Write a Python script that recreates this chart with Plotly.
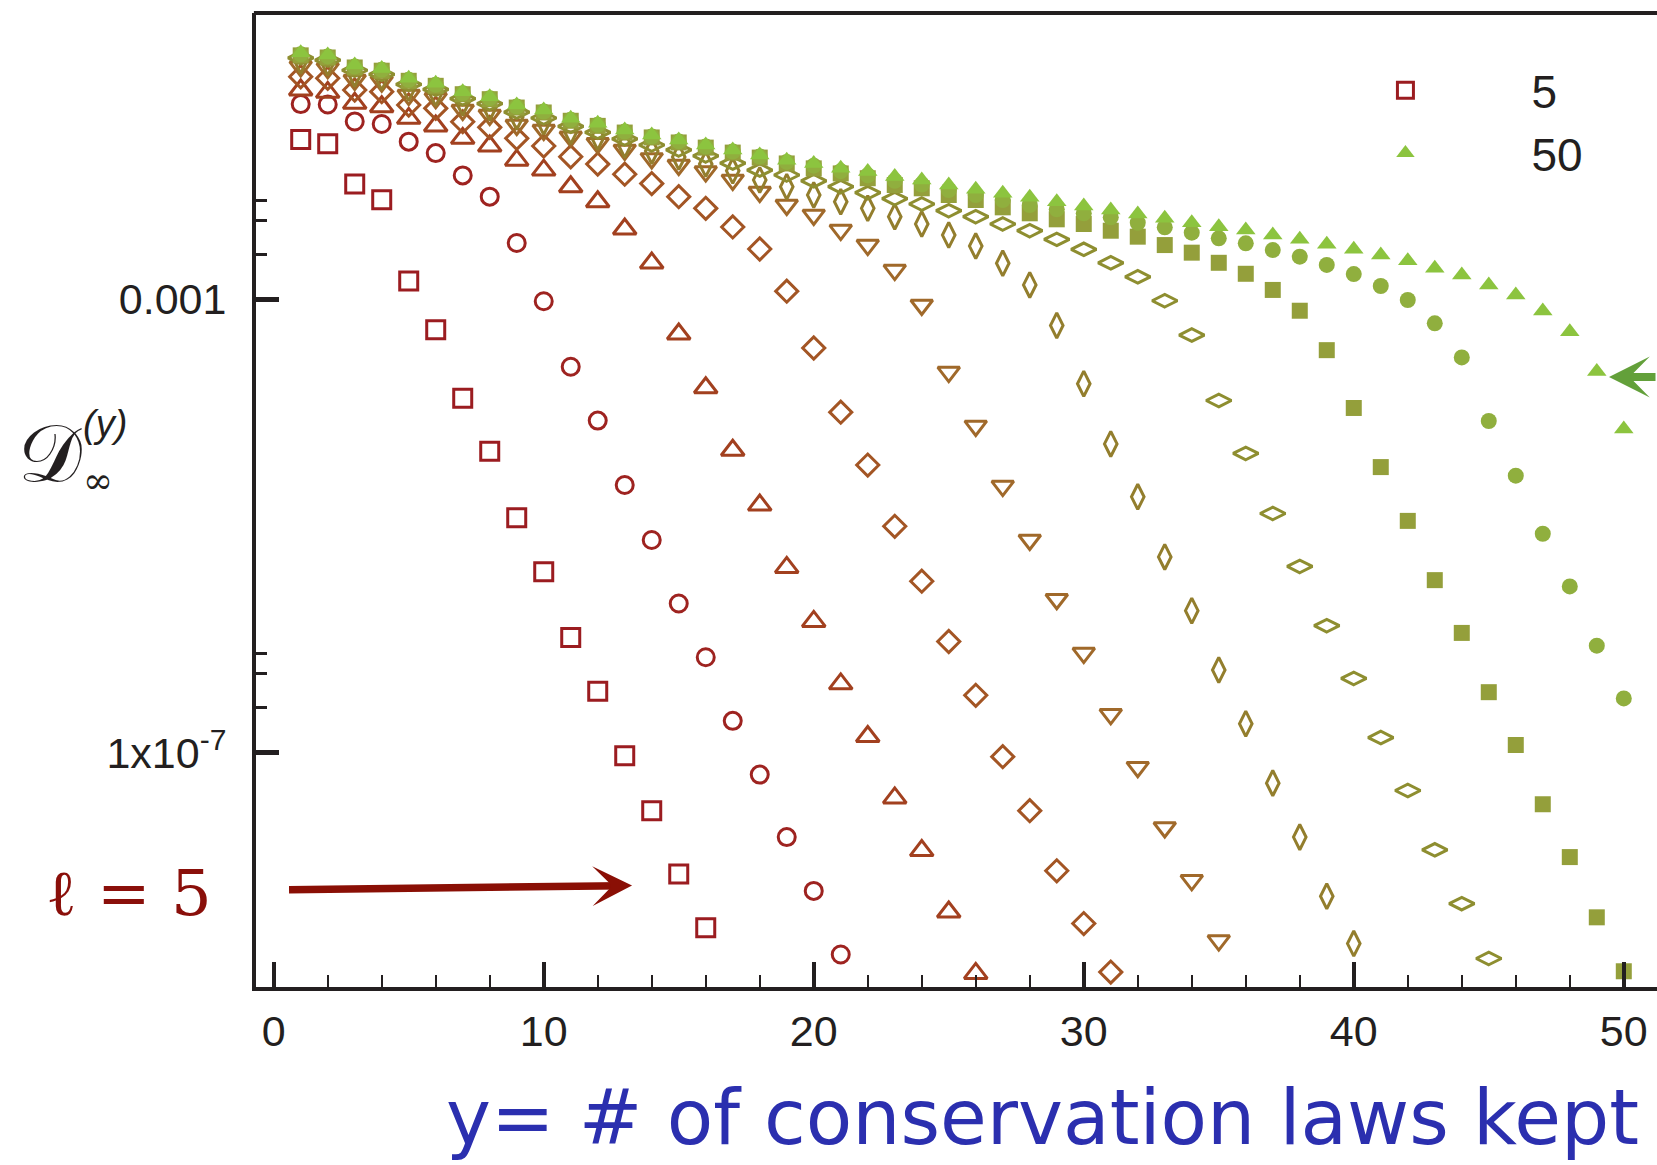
import plotly.graph_objects as go

# D_inf^(y) for l = 5, 10, ..., 50 ; y = 1, 2, ...
ell5 = [2.57e-2, 2.36e-2, 1.04e-2, 7.57e-3, 1.45e-3, 5.39e-4, 1.34e-4, 4.56e-5, 1.18e-5, 3.95e-6,
        1.04e-6, 3.49e-7, 9.42e-8, 3.08e-8, 8.51e-9, 2.85e-9]
ell10 = [5.28e-2, 5.24e-2, 3.71e-2, 3.52e-2, 2.46e-2, 1.95e-2, 1.24e-2, 8.05e-3, 3.14e-3, 9.62e-4,
         2.54e-4, 8.51e-5, 2.30e-5, 7.52e-6, 2.07e-6, 6.95e-7, 1.91e-7, 6.41e-8, 1.80e-8, 6.04e-9,
         1.66e-9]
ell15 = [7.03e-2, 6.70e-2, 5.36e-2, 5.00e-2, 3.95e-2, 3.38e-2, 2.63e-2, 2.25e-2, 1.69e-2, 1.38e-2,
         9.84e-3, 7.26e-3, 4.17e-3, 2.09e-3, 4.94e-4, 1.66e-4, 4.66e-5, 1.53e-5, 4.31e-6, 1.44e-6,
         4.05e-7, 1.39e-7, 3.99e-8, 1.37e-8, 3.93e-9, 1.13e-9]
ell20 = [9.20e-2, 8.91e-2, 7.03e-2, 6.79e-2, 5.18e-2, 4.84e-2, 3.69e-2, 3.29e-2, 2.63e-2, 2.25e-2,
         1.81e-2, 1.56e-2, 1.27e-2, 1.05e-2, 8.05e-3, 6.35e-3, 4.35e-3, 2.78e-3, 1.18e-3, 3.72e-4,
         1.01e-4, 3.45e-5, 9.94e-6, 3.26e-6, 9.57e-7, 3.21e-7, 9.23e-8, 3.08e-8, 9.08e-9, 3.11e-9,
         1.16e-9]
ell25 = [1.13e-1, 1.09e-1, 8.61e-2, 8.32e-2, 6.34e-2, 5.93e-2, 4.68e-2, 4.23e-2, 3.45e-2, 3.12e-2,
         2.72e-2, 2.38e-2, 2.08e-2, 1.75e-2, 1.53e-2, 1.34e-2, 1.13e-2, 8.85e-3, 6.79e-3, 5.55e-3,
         4.08e-3, 3.01e-3, 1.81e-3, 8.91e-4, 2.28e-4, 7.64e-5, 2.25e-5, 7.52e-6, 2.26e-6, 7.57e-7,
         2.18e-7, 7.45e-8, 2.19e-8, 7.48e-9, 2.20e-9]
ell30 = [0.127, 0.122, 0.0972, 0.0909, 0.0727, 0.0657, 0.0543, 0.0490, 0.0406, 0.0367,
         0.0303, 0.0269, 0.0230, 0.0203, 0.0180, 0.0156, 0.0136, 0.0113, 9.85e-3, 8.32e-3,
         7.26e-3, 6.35e-3, 5.36e-3, 4.62e-3, 3.69e-3, 2.95e-3, 2.08e-3, 1.34e-3, 5.87e-4, 1.80e-4,
         5.30e-5, 1.81e-5, 5.34e-6, 1.79e-6, 5.37e-7, 1.80e-7, 5.39e-8, 1.80e-8, 5.42e-9, 2.07e-9]
ell35 = [0.135, 0.129, 0.105, 0.0966, 0.0789, 0.0712, 0.0589, 0.0532, 0.0449, 0.0398,
         0.0336, 0.0297, 0.0260, 0.0230, 0.0208, 0.0184, 0.0159, 0.0138, 0.0125, 0.0111,
         9.85e-3, 8.72e-3, 7.72e-3, 6.93e-3, 6.05e-3, 5.36e-3, 4.62e-3, 4.03e-3, 3.38e-3, 2.76e-3,
         2.10e-3, 1.58e-3, 9.72e-4, 4.84e-4, 1.28e-4, 4.37e-5, 1.29e-5, 4.40e-6, 1.32e-6, 4.52e-7,
         1.36e-7, 4.64e-8, 1.39e-8, 4.66e-9, 1.53e-9]
ell40 = [0.142, 0.136, 0.111, 0.104, 0.0847, 0.0765, 0.0645, 0.0583, 0.0492, 0.0445,
         0.0376, 0.0339, 0.0296, 0.0268, 0.0242, 0.0218, 0.0197, 0.0178, 0.0158, 0.0143,
         0.0129, 0.0117, 0.0102, 9.54e-3, 8.32e-3, 7.52e-3, 6.48e-3, 5.74e-3, 5.08e-3, 4.62e-3,
         4.03e-3, 3.57e-3, 3.01e-3, 2.58e-3, 2.10e-3, 1.68e-3, 1.21e-3, 7.93e-4, 3.56e-4, 1.10e-4,
         3.31e-5, 1.11e-5, 3.33e-6, 1.14e-6, 3.42e-7, 1.17e-7, 3.51e-8, 1.20e-8, 3.53e-9, 1.18e-9]
ell45 = [0.145, 0.139, 0.113, 0.106, 0.0864, 0.0781, 0.0658, 0.0595, 0.0502, 0.0454,
         0.0383, 0.0346, 0.0302, 0.0273, 0.0247, 0.0223, 0.0201, 0.0182, 0.0163, 0.0151,
         0.0135, 0.0124, 0.0111, 0.0103, 9.21e-3, 8.32e-3, 7.52e-3, 6.79e-3, 6.22e-3, 5.74e-3,
         5.29e-3, 4.74e-3, 4.32e-3, 3.87e-3, 3.45e-3, 3.12e-3, 2.72e-3, 2.38e-3, 2.01e-3, 1.67e-3,
         1.31e-3, 9.86e-4, 6.14e-4, 3.07e-4, 8.44e-5, 2.78e-5, 8.55e-6, 2.93e-6, 8.79e-7, 3.01e-7]
ell50 = [0.150, 0.143, 0.117, 0.109, 0.0891, 0.0805, 0.0678, 0.0613, 0.0518, 0.0468,
         0.0395, 0.0357, 0.0312, 0.0282, 0.0254, 0.0230, 0.0208, 0.0188, 0.0169, 0.0158,
         0.0143, 0.0134, 0.0121, 0.0113, 0.0102, 9.34e-3, 8.61e-3, 7.94e-3, 7.26e-3, 6.65e-3,
         6.14e-3, 5.66e-3, 5.18e-3, 4.74e-3, 4.37e-3, 4.09e-3, 3.69e-3, 3.38e-3, 3.06e-3, 2.76e-3,
         2.46e-3, 2.19e-3, 1.88e-3, 1.64e-3, 1.34e-3, 1.09e-3, 7.88e-4, 5.18e-4, 2.31e-4, 7.18e-5]

series_values = [ell5, ell10, ell15, ell20, ell25, ell30, ell35, ell40, ell45, ell50]
ell_labels = ["5", "10", "15", "20", "25", "30", "35", "40", "45", "50"]

x_ticks = [0, 10, 20, 30, 40, 50]
x_tick_labels = ["0", "10", "20", "30", "40", "50"]
y_ticks = [1e-3, 1e-7]
y_tick_labels = ["0.001", "1x10<sup>-7</sup>"]
y_minor_ticks = [2.5e-3, 5e-3, 7.5e-3, 2.5e-7, 5e-7, 7.5e-7]

# styles
colors = ["#9B1C20", "#9E2320", "#A2401F", "#A35524", "#A0692A",
          "#937E2D", "#8E8E30", "#949F3B", "#90AF3E", "#8CC43F"]
symbols = ["square-open", "circle-open", "triangle-up-open", "diamond-open", "triangle-down-open",
           "diamond-tall-open", "diamond-wide-open", "square", "circle", "triangle-up"]
sizes = [18, 17, 20, 17, 19, 18, 18, 16, 16, 17]
line_w = [3, 3, 3, 3, 3, 3, 3, 0, 0, 0]

AXC = "#231F20"
TICKFONT = dict(family="Liberation Sans, Arial, sans-serif", size=43, color=AXC)

fig = go.Figure()
for i, vals in enumerate(series_values):
    fig.add_trace(go.Scatter(
        x=list(range(1, len(vals) + 1)), y=vals,
        mode="markers", name=ell_labels[i],
        showlegend=(i in (0, len(series_values) - 1)),
        marker=dict(symbol=symbols[i], size=sizes[i], color=colors[i],
                    line=dict(width=line_w[i], color=colors[i])),
        cliponaxis=False,
    ))

fig.update_layout(
    width=1657, height=1165, autosize=False,
    margin=dict(l=256, r=0, t=13, b=178, pad=0),
    paper_bgcolor="white", plot_bgcolor="white",
    showlegend=True,
    legend=dict(x=0.7305, y=0.958, xanchor="left", yanchor="top",
                bgcolor="rgba(0,0,0,0)", borderwidth=0, itemwidth=242,
                font=dict(family="Liberation Sans, Arial, sans-serif", size=46, color=AXC)),
    xaxis=dict(range=[-0.656, 51.23], showgrid=False, zeroline=False,
               showline=True, linewidth=4, linecolor=AXC, mirror=False,
               tickmode="array", tickvals=x_ticks, ticktext=x_tick_labels,
               ticks="inside", ticklen=25, tickwidth=4, tickcolor=AXC,
               tickfont=TICKFONT, ticklabelstandoff=3,
               minor=dict(dtick=2, tick0=0, ticks="inside", ticklen=12, tickwidth=2, tickcolor=AXC)),
    yaxis=dict(type="log", range=[-9.067, -0.474], showgrid=False, zeroline=False,
               showline=True, linewidth=4, linecolor=AXC, mirror=False,
               tickmode="array", tickvals=y_ticks, ticktext=y_tick_labels,
               ticks="inside", ticklen=23, tickwidth=4.5, tickcolor=AXC,
               tickfont=TICKFONT, ticklabelstandoff=17,
               minor=dict(tickmode="array", tickvals=y_minor_ticks, ticks="inside",
                          ticklen=11, tickwidth=2.5, tickcolor=AXC)),
)

# top frame line
fig.add_shape(type="line", xref="paper", yref="paper", x0=-0.0015, x1=1, y0=1, y1=1,
              line=dict(color=AXC, width=4))

# x-axis title
fig.add_annotation(text="y= # of conservation laws kept", xref="paper", yref="paper",
                   x=0.9886, y=-0.134, xanchor="right", yanchor="middle", showarrow=False,
                   font=dict(family="DejaVu Sans", size=76, color="#2B2FAF"))

# y-axis label
fig.add_annotation(text="𝒟", xref="paper", yref="paper", x=-0.171, y=0.548,
                   xanchor="left", yanchor="middle", showarrow=False,
                   font=dict(family="DejaVu Serif", size=80, color="#231F20"))
fig.add_annotation(text="<i>(y)</i>", xref="paper", yref="paper", x=-0.125, y=0.578,
                   xanchor="left", yanchor="middle", showarrow=False,
                   font=dict(family="Liberation Sans", size=38, color="#231F20"))
fig.add_annotation(text="∞", xref="paper", yref="paper", x=-0.125, y=0.52,
                   xanchor="left", yanchor="middle", showarrow=False,
                   font=dict(family="DejaVu Serif", size=36, color="#231F20"))

# l = 5 label and arrow
fig.add_annotation(text="ℓ = 5", xref="paper", yref="paper", x=-0.151, y=0.0965,
                   xanchor="left", yanchor="middle", showarrow=False,
                   font=dict(family="DejaVu Serif", size=64, color="#8A0F0A"))
fig.add_annotation(text="", xref="paper", yref="paper", x=0.2684, y=0.1041,
                   ax=-344.5, ay=4.2, axref="pixel", ayref="pixel",
                   showarrow=True, arrowhead=3, arrowsize=0.88, arrowwidth=7.5,
                   arrowcolor="#8A0F05")
# arrow pointing at l = 50
fig.add_annotation(text="", xref="paper", yref="paper", x=(1609 - 256) / 1401, y=1 - (377 - 13) / 974,
                   ax=120, ay=0, axref="pixel", ayref="pixel",
                   showarrow=True, arrowhead=3, arrowsize=0.85, arrowwidth=8,
                   arrowcolor="#63A03A")

fig.write_html("out.html")
